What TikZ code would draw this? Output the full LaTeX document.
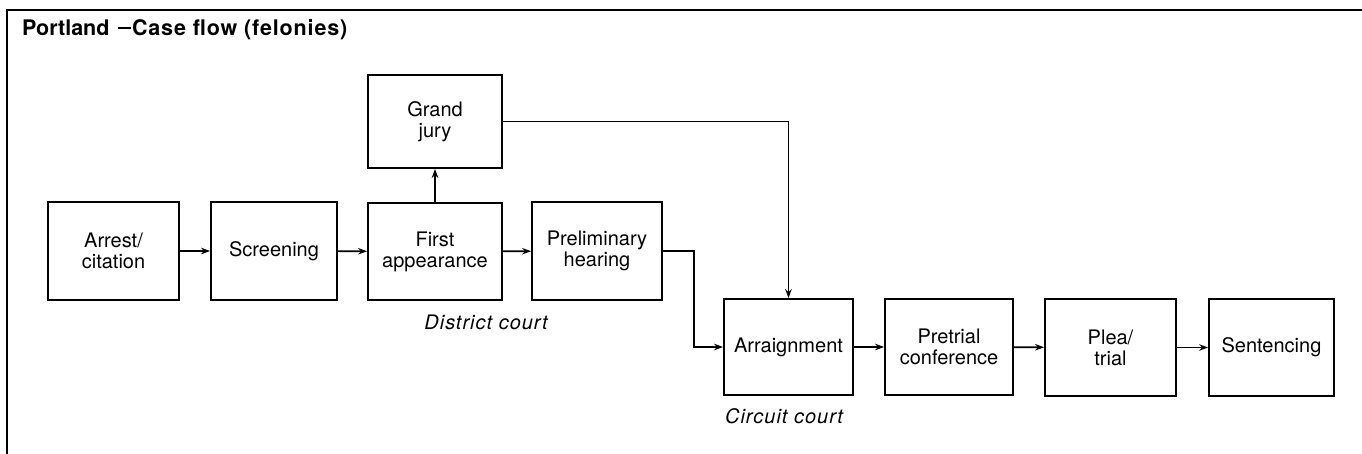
\documentclass[tikz,border=0pt]{standalone}
\usepackage{fontspec}
\setmainfont{TeX Gyre Heros}
\usetikzlibrary{arrows.meta}
\begin{document}
\begin{tikzpicture}[x=1pt,y=-1pt,
  box/.style={draw,line width=1.8pt,inner sep=0pt,align=center,font=\fontsize{20}{21}\selectfont},
  flow/.style={line width=1.6pt,-{Stealth[length=9pt,width=6.5pt]}},
  lbl/.style={font=\fontsize{20}{21}\selectfont\itshape\addfontfeature{LetterSpace=5},anchor=base,inner sep=0pt}]
\useasboundingbox (0,0) rectangle (1362,454);
\draw[line width=2pt] (7,454) -- (7,10) -- (1362,10);
\node[anchor=base west,inner sep=0pt,font=\fontsize{21.5}{22}\selectfont\bfseries] (title) at (22,36) {Portland\hspace{8pt}\rule[7pt]{13pt}{1.6pt}\hspace{1.5pt}{\addfontfeature{LetterSpace=4}Case flow (felonies)}};
\node[box,minimum width=131pt,minimum height=98pt] (arrest) at (113.5,251) {Arrest/\\citation};
\node[box,minimum width=126pt,minimum height=98pt] (screen) at (274,251) {Screening};
\node[box,minimum width=134pt,minimum height=97pt] (first) at (435,251.5) {First\\appearance};
\node[box,minimum width=134pt,minimum height=93pt] (gj) at (435,121.5) {Grand\\jury};
\node[box,minimum width=130pt,minimum height=98pt] (prelim) at (597,251) {Preliminary\\hearing};
\node[box,minimum width=129pt,minimum height=96pt] (arr) at (788.5,347) {Arraignment};
\node[box,minimum width=128pt,minimum height=96pt] (pre) at (949,347) {Pretrial\\conference};
\node[box,minimum width=131pt,minimum height=97pt] (plea) at (1110.5,347.5) {Plea/\\trial};
\node[box,minimum width=125pt,minimum height=97pt] (sent) at (1271.5,347.5) {Sentencing};
\node[lbl] (dc) at (486,329) {District court};
\node[lbl] (cc) at (784,423) {Circuit court};
\coordinate (j1) at (694,300);
\draw[flow] (arrest) -- (screen);
\draw[flow] (screen) -- (first);
\draw[flow] (first) -- (prelim);
\draw[flow] (first) -- (gj);
\draw[flow] (gj.east) -| (arr.north);
\draw[flow] (prelim.east) -| (j1) |- (arr.west);
\draw[flow] (arr) -- (pre);
\draw[flow] (pre) -- (plea);
\draw[flow] (plea) -- (sent);
\end{tikzpicture}
\end{document}
